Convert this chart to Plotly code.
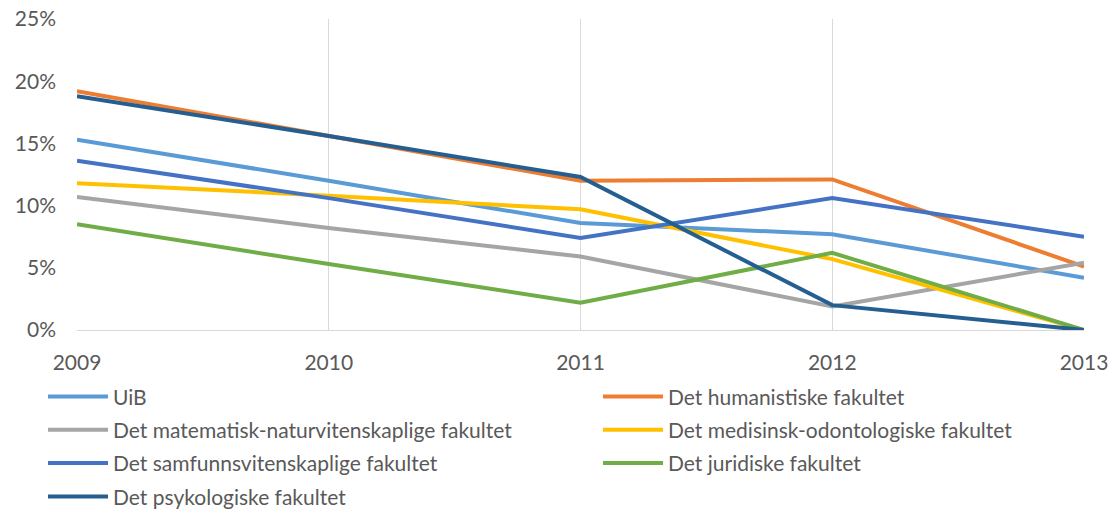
import plotly.graph_objects as go

years = [2009, 2010, 2011, 2012, 2013]
series_names = [
    "UiB",
    "Det humanistiske fakultet",
    "Det matematisk-naturvitenskaplige fakultet",
    "Det medisinsk-odontologiske fakultet",
    "Det samfunnsvitenskaplige fakultet",
    "Det juridiske fakultet",
    "Det psykologiske fakultet",
]
uib = [0.153, 0.120, 0.086, 0.077, 0.042]
hum = [0.192, 0.156, 0.120, 0.121, 0.051]
matnat = [0.107, 0.082, 0.059, 0.019, 0.054]
med = [0.118, 0.108, 0.097, 0.057, 0.0]
samf = [0.136, 0.106, 0.074, 0.106, 0.075]
jur = [0.085, 0.053, 0.022, 0.062, 0.0]
psyk = [0.188, 0.156, 0.123, 0.020, 0.0]
colors = ["#5B9BD5", "#ED7D31", "#A5A5A5", "#FFC000", "#4472C4", "#70AD47", "#255E91"]
tick_labels = ["0%", "5%", "10%", "15%", "20%", "25%"]
tick_vals = [0, 0.05, 0.10, 0.15, 0.20, 0.25]

all_series = [uib, hum, matnat, med, samf, jur, psyk]
legend_ids = ["legend", "legend2", "legend", "legend2", "legend", "legend2", "legend"]

fig = go.Figure()
for i, (name, vals, col, lg) in enumerate(zip(series_names, all_series, colors, legend_ids)):
    fig.add_trace(go.Scatter(x=years, y=vals, mode="lines", name=name,
                             legend=lg, legendgroup=f"g{i}",
                             line=dict(color=col, width=4)))

font = dict(family="Lato", size=21, color="#595959")
plot_w = 1111 - 77 - 27
leg_common = dict(orientation="v", yanchor="top", xanchor="left",
                  itemwidth=60, font=font, tracegroupgap=3,
                  bgcolor="rgba(0,0,0,0)")
fig.update_layout(
    width=1111, height=509,
    margin=dict(l=77, r=27, t=19, b=179, autoexpand=False),
    paper_bgcolor="white", plot_bgcolor="white",
    font=font,
    showlegend=True,
    legend=dict(x=-34 / plot_w, y=-0.149, **leg_common),
    legend2=dict(x=521 / plot_w, y=-0.149, **leg_common),
)
fig.update_xaxes(range=[2009, 2013], tickvals=years, ticktext=[str(y) for y in years],
                 showgrid=True, gridcolor="#D9D9D9", gridwidth=1,
                 showline=True, linecolor="#D9D9D9", linewidth=1,
                 zeroline=False, ticks="", ticklabelstandoff=14, tickfont=font,
                 ticklabeloverflow="allow")
fig.update_yaxes(range=[0, 0.25], tickvals=tick_vals, ticktext=tick_labels,
                 showgrid=False, zeroline=False, showline=False,
                 ticklabelstandoff=20, tickfont=font, ticklabeloverflow="allow")

fig.write_html(
    "out.html",
    config={"displayModeBar": False},
    post_script="document.body.style.margin='0';document.body.style.overflow='hidden';",
)
